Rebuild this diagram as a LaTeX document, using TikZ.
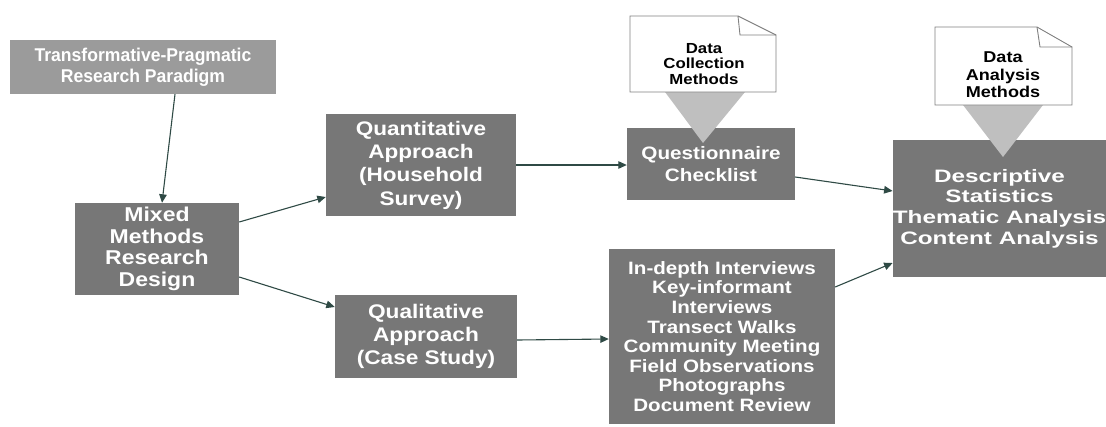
\documentclass[tikz,border=0pt]{standalone}
\usepackage{fontspec}
\setmainfont{Liberation Sans}
\newfontfamily\fnarrow{Liberation Sans}[FakeStretch=0.95]
\newfontfamily\fwide{Liberation Sans}[FakeStretch=1.15]
\newfontfamily\fwider{Liberation Sans}[FakeStretch=1.35]
\usetikzlibrary{arrows.meta}
\definecolor{boxgray}{HTML}{777777}
\definecolor{lightbox}{HTML}{9B9B9B}
\definecolor{pointer}{HTML}{BFBFBF}
\definecolor{docedge}{HTML}{808080}
\definecolor{arrowcol}{HTML}{2F4A45}
\tikzset{
  darkbox/.style={fill=boxgray, inner sep=0pt, align=center, text=white},
  paradigm/.style={fill=lightbox, inner sep=0pt, align=center, text=white},
  doctext/.style={inner sep=0pt, align=center, text=black},
  flow/.style={draw=arrowcol, line width=1.1pt, -{Triangle[length=8.5pt,width=7.5pt]}},
  docshape/.style={draw=docedge, fill=white, line width=0.9pt, line join=miter},
  pointershape/.style={fill=pointer}
}
\newcommand{\fs}[2]{\fontsize{#1}{#2}\selectfont}
\begin{document}
\begin{tikzpicture}[x=1pt, y=-1pt]
\useasboundingbox (0,0) rectangle (1106,426);

% main boxes
\node[paradigm, minimum width=266pt, minimum height=54pt,
      font=\fnarrow\bfseries\fs{18.5}{21.3}] (paradigm) at (143,67)
  {Transformative-Pragmatic\\Research Paradigm};
\node[darkbox, minimum width=164pt, minimum height=92pt,
      font=\fwide\bfseries\fs{20}{21.7}] (mixed) at (157,249)
  {Mixed\\Methods\\Research\\Design};
\node[darkbox, minimum width=190pt, minimum height=102pt,
      font=\fwide\bfseries\fs{19.6}{23.3}] (quant) at (421,165)
  {Quantitative\\Approach\\(Household\\Survey)};
\node[darkbox, minimum width=182pt, minimum height=83pt,
      font=\fwide\bfseries\fs{19.7}{22.8}] (qual) at (426,336.5)
  {Qualitative\\Approach\\(Case Study)};
\node[darkbox, minimum width=168pt, minimum height=72pt,
      font=\fwide\bfseries\fs{18}{21.7}] (quest) at (711,164)
  {Questionnaire\\Checklist};
\node[darkbox, minimum width=226pt, minimum height=175pt,
      font=\fwide\bfseries\fs{17.9}{19.6}] (detail) at (722,336.5)
  {In-depth Interviews\\Key-informant\\Interviews\\Transect Walks\\Community Meeting\\Field Observations\\Photographs\\Document Review};
\node[darkbox, minimum width=213pt, minimum height=137pt,
      font=\fwider\bfseries\fs{18}{20.7}] (analysis) at (999.5,208.5)
  {Descriptive\\Statistics\\Thematic Analysis\\Content Analysis};

% pointers from the method notes down into their boxes
\fill[pointershape] (665,92) -- (745,92) -- (703,143) -- cycle;
\fill[pointershape] (963,105) -- (1043,105) -- (1003,157) -- cycle;

% folded-corner notes
\draw[docshape] (630,16) -- (738,16) -- (776,35) -- (776,92) -- (630,92) -- cycle;
\draw[docedge, line width=0.9pt] (738,16) -- (740,35) -- (776,35);
\draw[docshape] (935,27) -- (1037,27) -- (1072,47) -- (1072,105) -- (935,105) -- cycle;
\draw[docedge, line width=0.9pt] (1037,27) -- (1040,47) -- (1072,47);

\node[doctext, font=\fwide\bfseries\fs{14.6}{15.8}] (colltxt) at (704,64)
  {Data\\Collection\\Methods};
\node[doctext, font=\fwide\bfseries\fs{15.7}{17.5}] (analtxt) at (1003,75)
  {Data\\Analysis\\Methods};

% connectors
\draw[flow] ([xshift=32pt]paradigm.south) -- ([xshift=5pt]mixed.north);
\draw[flow] ([yshift=27pt]mixed.east) -- ([yshift=-32pt]quant.west);
\draw[flow] ([yshift=-28pt]mixed.east) -- ([yshift=29.5pt]qual.west);
\draw[flow] (quant.east) -- ([yshift=-1pt]quest.west);
\draw[flow] ([yshift=-3.5pt]qual.east) -- ([yshift=-2.5pt]detail.west);
\draw[flow] ([yshift=-13pt]quest.east) -- ([yshift=17.5pt]analysis.west);
\draw[flow] ([yshift=49.5pt]detail.east) -- ([yshift=-54.5pt]analysis.west);
\end{tikzpicture}
\end{document}
